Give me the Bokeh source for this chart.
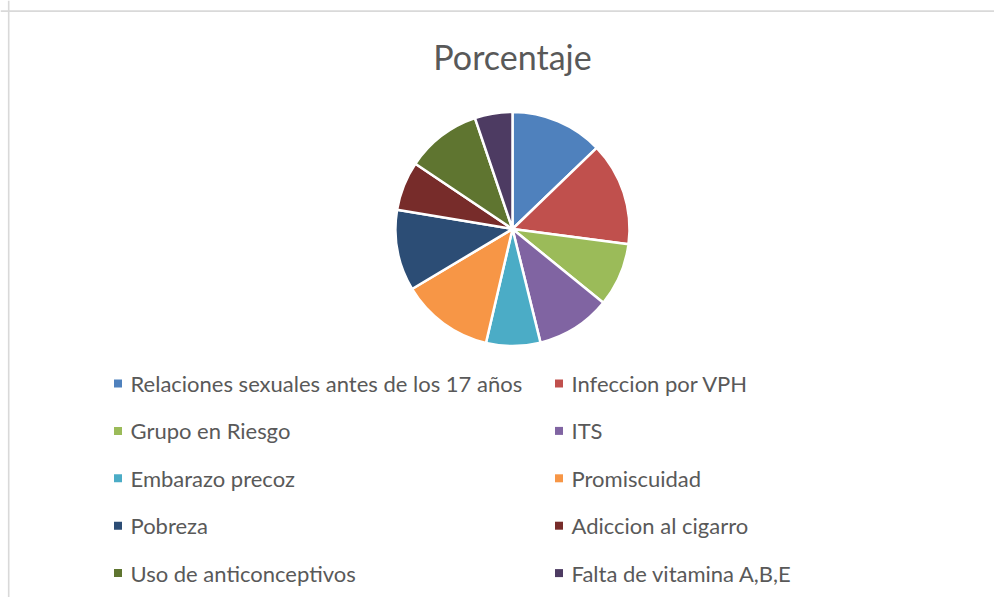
import math
from bokeh.plotting import figure
from bokeh.models import ColumnDataSource, Range1d, Span
from bokeh.core.properties import value
from bokeh.embed import file_html
from bokeh.resources import INLINE

# ---- data ----
categories = [
    "Relaciones sexuales antes de los 17 años",
    "Infeccion por VPH",
    "Grupo en Riesgo",
    "ITS",
    "Embarazo precoz",
    "Promiscuidad",
    "Pobreza",
    "Adiccion al cigarro",
    "Uso de anticonceptivos",
    "Falta de vitamina A,B,E",
]
percentages = [12.8, 14.3, 8.8, 10.3, 7.5, 12.8, 11.2, 6.8, 10.4, 5.2]
colors = ["#4F81BD", "#C0504D", "#9BBB59", "#8064A2", "#4BACC6",
          "#F79646", "#2C4D75", "#772C2A", "#5F7530", "#4D3B62"]
title_text = "Porcentaje"

W, H = 994, 597
FONT = "Lato"
TXT = "#595959"

def sy(y):  # picture y -> data y
    return H - y

def sx(x):
    return x

p = figure(width=W, height=H, output_backend="svg", toolbar_location=None,
           x_range=Range1d(0, W), y_range=Range1d(0, H), min_border=0,
           outline_line_color=None, background_fill_color="white",
           border_fill_color="white")
p.axis.visible = False
p.grid.visible = False

# chart area border (left and top visible)
p.add_layout(Span(location=8.2, dimension="height", line_color="#D9D9D9", line_width=1.6))
p.add_layout(Span(location=sy(10.6), dimension="width", line_color="#D9D9D9", line_width=1.6))

# pie
total = sum(percentages)
starts, ends = [], []
cum = 0.0
for v in percentages:
    a0 = cum / total * 2 * math.pi
    cum += v
    a1 = cum / total * 2 * math.pi
    starts.append(math.pi / 2 - a0)
    ends.append(math.pi / 2 - a1)

src = ColumnDataSource(dict(start=starts, end=ends, color=colors, cat=categories,
                            val=percentages))
p.wedge(x=sx(512), y=sy(228.5), radius=117, start_angle="start", end_angle="end",
        direction="clock", fill_color="color", line_color="white", line_width=2.5,
        source=src)

# title
p.text(x=[sx(512)], y=[sy(56)], text=[title_text], text_font=value(FONT),
       text_font_size="34px", text_color=TXT, text_align="center",
       text_baseline="middle")

# legend (two columns)
lx, ly, lt, lc = [], [], [], []
for i, (c, col) in enumerate(zip(categories, colors)):
    row, colm = divmod(i, 2)
    mx = 117.5 if colm == 0 else 558.5
    y = 383 + row * 47.4
    lx.append(sx(mx)); ly.append(sy(y)); lt.append(c); lc.append(col)
p.rect(x=lx, y=ly, width=8, height=8, fill_color=lc, line_color=None)
p.text(x=[v + 12.5 for v in lx], y=ly, text=lt, text_font=value(FONT),
       text_font_size="22px", text_color=TXT, text_align="left",
       text_baseline="middle")

open("out.html", "w").write(file_html(p, INLINE))
